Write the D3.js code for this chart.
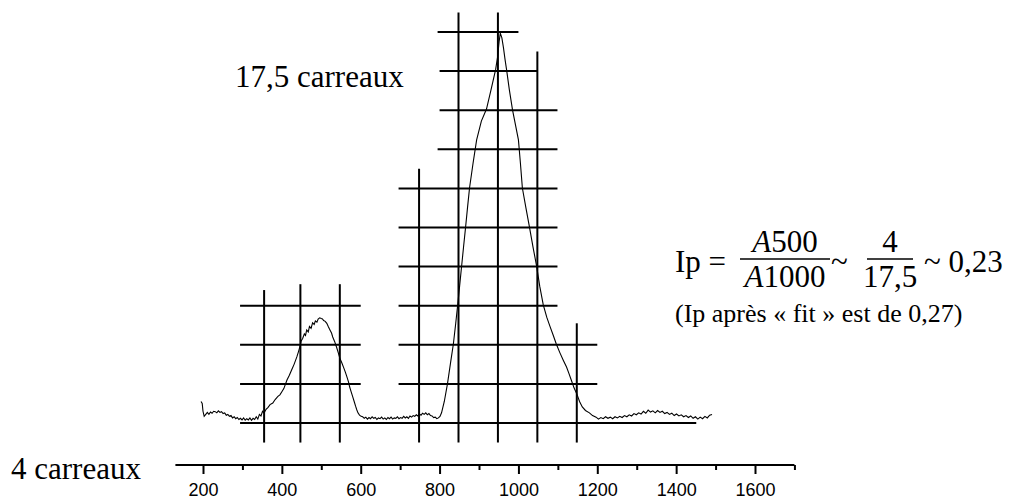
<!DOCTYPE html>
<html><head><meta charset="utf-8">
<script src="https://cdn.jsdelivr.net/npm/d3@7"></script>
<style>body{margin:0;background:#fff}</style>
</head><body><svg id="c" width="1010" height="500"></svg>
<script>
// spectrum: wavelength (nm) and intensity (in grid squares)
const wavelength = [195,198,200,203,207,211,215,219,223,227,231,235,239,243,247,251,255,259,263,267,271,275,279,283,287,291,295,299,303,307,311,315,319,323,327,331,335,339,343,347,351,355,360,365,370,377,383,390,395,400,405,413,419,425,431,438,442,446,449,453,457,460,463,467,470,474,478,482,485,489,492,496,500,503,506,510,514,518,522,526,529,534,539,543,547,552,557,561,565,569,572,576,580,584,587,590,593,597,601,605,609,613,617,621,625,629,633,637,641,645,649,653,657,661,665,669,673,677,681,685,689,693,697,701,705,709,713,717,721,725,729,733,737,741,745,749,753,757,761,765,769,773,777,781,785,789,793,797,801,805,812,820,828,835,841,846,851,856,861,866,871,876,885,894,906,919,930,942,947,951,954,958,962,966,970,977,985,993,1000,1005,1010,1019,1028,1037,1046,1054,1063,1072,1080,1088,1096,1105,1114,1122,1128,1134,1141,1149,1155,1162,1170,1180,1188,1197,1203,1209,1215,1221,1227,1233,1239,1245,1251,1257,1263,1269,1275,1281,1287,1293,1299,1305,1311,1317,1323,1329,1335,1341,1347,1353,1359,1365,1371,1377,1383,1389,1395,1401,1407,1413,1419,1425,1431,1437,1443,1449,1455,1461,1467,1473,1479,1485,1491];
const intensity = [0.55,0.50,0.30,0.17,0.22,0.27,0.22,0.28,0.25,0.30,0.29,0.26,0.31,0.27,0.29,0.24,0.26,0.20,0.22,0.17,0.19,0.13,0.16,0.11,0.14,0.09,0.12,0.08,0.13,0.07,0.11,0.08,0.13,0.07,0.12,0.09,0.16,0.10,0.22,0.18,0.30,0.26,0.35,0.40,0.47,0.51,0.60,0.68,0.72,0.80,0.88,1.10,1.22,1.36,1.50,1.69,1.82,1.96,2.10,2.17,2.28,2.24,2.38,2.33,2.47,2.42,2.56,2.52,2.61,2.58,2.66,2.69,2.67,2.66,2.62,2.60,2.55,2.46,2.38,2.30,2.20,2.08,1.93,1.80,1.66,1.54,1.41,1.30,1.18,1.05,0.92,0.79,0.66,0.53,0.43,0.34,0.26,0.20,0.17,0.16,0.12,0.15,0.10,0.14,0.11,0.16,0.12,0.14,0.09,0.13,0.11,0.15,0.10,0.13,0.09,0.14,0.11,0.15,0.10,0.13,0.12,0.16,0.11,0.14,0.12,0.17,0.13,0.16,0.12,0.18,0.15,0.19,0.17,0.21,0.18,0.23,0.20,0.25,0.22,0.26,0.21,0.24,0.19,0.18,0.14,0.15,0.11,0.13,0.17,0.26,0.55,1.00,1.55,2.02,2.55,3.02,3.52,4.02,4.52,5.01,5.52,6.01,6.65,7.24,7.72,8.03,8.50,9.03,9.35,9.75,9.97,9.85,9.60,9.30,9.03,8.52,8.01,7.60,7.24,6.65,6.01,5.50,5.01,4.50,4.02,3.50,3.02,2.70,2.47,2.25,2.02,1.80,1.60,1.43,1.27,1.10,0.90,0.72,0.55,0.41,0.32,0.26,0.19,0.15,0.10,0.14,0.11,0.16,0.12,0.15,0.11,0.16,0.13,0.17,0.14,0.19,0.16,0.21,0.18,0.24,0.21,0.26,0.23,0.30,0.25,0.33,0.28,0.31,0.26,0.32,0.27,0.30,0.24,0.27,0.22,0.25,0.19,0.23,0.18,0.21,0.16,0.19,0.14,0.18,0.12,0.16,0.10,0.15,0.11,0.17,0.13,0.20,0.22];

// x axis ticks
const majorTicks = [200,400,600,800,1000,1200,1400,1600];
const minorTicks = [300,500,700,900,1100,1300,1500,1700];
const axisExtent = [130,1700];

// hand-drawn counting grid ("carreaux")
const gridVx = [355,447,547,748,848,948,1048,1148];
const gridVtop = [3.4,3.55,3.55,6.5,10.5,10.5,9.5,2.55];
const gridVbottom = -0.5;
const gridHlevel = [0,1,2,3,1,2,3,4,5,6,7,8,9,10];
const gridHstart = [294,294,294,294,696,696,696,696,696,696,795,800,800,795];
const gridHend = [1451,600,600,600,1200,1200,1099,1099,1099,1099,1099,1099,1048,1000];

const svg = d3.select("#c");
const x = d3.scaleLinear().domain([200,1600]).range([203,755]);
const y = d3.scaleLinear().domain([0,10]).range([423,32]);
const serif = "'Liberation Serif','Times New Roman',serif";

// grid
const g = svg.append("g").attr("stroke","#000").attr("stroke-width",2);
g.selectAll(".v").data(gridVx).join("line").attr("class","v")
  .attr("x1",d=>x(d)).attr("x2",d=>x(d))
  .attr("y1",(d,i)=>y(gridVtop[i])).attr("y2",y(gridVbottom));
g.selectAll(".h").data(gridHlevel).join("line").attr("class","h")
  .attr("y1",d=>y(d)).attr("y2",d=>y(d))
  .attr("x1",(d,i)=>x(gridHstart[i])).attr("x2",(d,i)=>x(gridHend[i]));

// spectrum
const line = d3.line().x(d=>x(d[0])).y(d=>y(d[1]));
svg.append("path").datum(d3.zip(wavelength,intensity)).attr("d",line)
  .attr("fill","none").attr("stroke","#000").attr("stroke-width",1.1);

// axis
const axisY = 465;
svg.append("line").attr("x1",x(axisExtent[0])).attr("x2",x(axisExtent[1]))
  .attr("y1",axisY).attr("y2",axisY).attr("stroke","#000").attr("stroke-width",2);
const gMaj = svg.append("g").attr("transform",`translate(0,${axisY})`)
  .call(d3.axisBottom(x).tickValues(majorTicks).tickSize(9).tickPadding(9).tickFormat(d3.format("d")));
gMaj.select(".domain").remove();
gMaj.selectAll("line").attr("stroke-width",2);
gMaj.selectAll("text").attr("font-family","'Liberation Sans',Arial,sans-serif").attr("font-size",18).attr("fill","#000");
const gMin = svg.append("g").attr("transform",`translate(0,${axisY})`)
  .call(d3.axisBottom(x).tickValues(minorTicks).tickSize(5).tickFormat(""));
gMin.select(".domain").remove();
gMin.selectAll("line").attr("stroke-width",2);

// annotations
function txt(s,xp,yp,size,anchor){
  return svg.append("text").attr("x",xp).attr("y",yp).attr("font-family",serif)
    .attr("font-size",size).attr("text-anchor",anchor||"start").attr("fill","#000").text(s);
}
txt("17,5 carreaux",235,87,31);
txt("4 carreaux",11,479,31);
txt("Ip =",675,272,31);
const t1 = svg.append("text").attr("x",785).attr("y",252).attr("font-family",serif).attr("font-size",31).attr("text-anchor","middle");
t1.append("tspan").attr("font-style","italic").text("A");
t1.append("tspan").text("500");
const t2 = svg.append("text").attr("x",785).attr("y",287).attr("font-family",serif).attr("font-size",31).attr("text-anchor","middle");
t2.append("tspan").attr("font-style","italic").text("A");
t2.append("tspan").text("1000");
svg.append("line").attr("x1",740).attr("x2",830).attr("y1",259).attr("y2",259).attr("stroke","#000").attr("stroke-width",1.5);
txt("~",831,272,31);
txt("4",890,252,31,"middle");
txt("17,5",890,287,31,"middle");
svg.append("line").attr("x1",867).attr("x2",913).attr("y1",259).attr("y2",259).attr("stroke","#000").attr("stroke-width",1.5);
txt("~ 0,23",924,272,31);
txt("(Ip après « fit » est de 0,27)",675,322,26);
</script></body></html>
